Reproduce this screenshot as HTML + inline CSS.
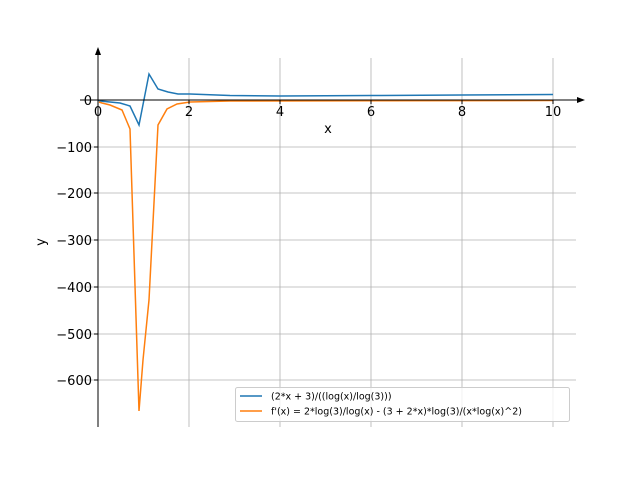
<!DOCTYPE html>
<html><head><style>body{margin:0;background:#fff}svg{display:block}text{font-family:"DejaVu Sans","Liberation Sans",sans-serif}</style></head><body>
<svg width="640" height="480" xmlns="http://www.w3.org/2000/svg">
<g stroke="#b0b0b0" stroke-width="0.8">
<line x1="189" y1="58" x2="189" y2="427"/><line x1="280" y1="58" x2="280" y2="427"/><line x1="371" y1="58" x2="371" y2="427"/><line x1="462" y1="58" x2="462" y2="427"/><line x1="553" y1="58" x2="553" y2="427"/>
<line x1="80" y1="147" x2="576" y2="147"/><line x1="80" y1="193" x2="576" y2="193"/><line x1="80" y1="240" x2="576" y2="240"/><line x1="80" y1="287" x2="576" y2="287"/><line x1="80" y1="334" x2="576" y2="334"/><line x1="80" y1="380" x2="576" y2="380"/>
</g>
<polyline fill="none" stroke="#1f77b4" stroke-width="1.5" points="98,100 100,101 120,103 130,106 139,125 149,74 158,89 168,92 178,94 190,94 230,95.5 280,96 371,95.5 462,95 553,94.5"/>
<polyline fill="none" stroke="#ff7f0e" stroke-width="1.5" points="99,102 102,103 110,105 122,110 130,129 139,411 143,360 149,300 158,125 167,109 177,104 190,102 230,101 553,100.5"/>
<g stroke="#000" stroke-width="1">
<line x1="98" y1="50" x2="98" y2="427"/><line x1="80" y1="100" x2="580" y2="100"/>
<line x1="94" y1="100" x2="98" y2="100"/>
</g>
<polygon points="98,47 95,55 101,55" fill="#000"/><polygon points="585,100 577,97 577,103" fill="#000"/>
<g stroke="#000"><line x1="94" y1="147" x2="98" y2="147"/><line x1="94" y1="193" x2="98" y2="193"/><line x1="94" y1="240" x2="98" y2="240"/><line x1="94" y1="287" x2="98" y2="287"/><line x1="94" y1="334" x2="98" y2="334"/><line x1="94" y1="380" x2="98" y2="380"/>
<line x1="98" y1="100" x2="98" y2="104"/><line x1="189" y1="100" x2="189" y2="104"/><line x1="280" y1="100" x2="280" y2="104"/><line x1="371" y1="100" x2="371" y2="104"/><line x1="462" y1="100" x2="462" y2="104"/><line x1="553" y1="100" x2="553" y2="104"/></g>
<g font-size="13" text-anchor="middle">
<text x="98" y="116">0</text><text x="189" y="116">2</text><text x="280" y="116">4</text><text x="371" y="116">6</text><text x="462" y="116">8</text><text x="553" y="116">10</text>
<text x="328" y="133">x</text>
</g>
<g font-size="13" text-anchor="end">
<text x="92" y="105">0</text><text x="92" y="152">−100</text><text x="92" y="198">−200</text><text x="92" y="245">−300</text><text x="92" y="292">−400</text><text x="92" y="339">−500</text><text x="92" y="385">−600</text>
</g>
<text x="45" y="242" font-size="13" transform="rotate(-90 45 242)" text-anchor="middle">y</text>
<rect x="235.5" y="387.5" width="334" height="34" rx="2" fill="#fff" fill-opacity="0.8" stroke="#ccc"/>
<line x1="240" y1="396" x2="262" y2="396" stroke="#1f77b4" stroke-width="1.5"/>
<line x1="240" y1="411" x2="262" y2="411" stroke="#ff7f0e" stroke-width="1.5"/>
<g font-size="9.5"><text x="271" y="399.5">(2*x + 3)/((log(x)/log(3)))</text><text x="271" y="414.5">f'(x) = 2*log(3)/log(x) - (3 + 2*x)*log(3)/(x*log(x)^2)</text></g>
</svg></body></html>
